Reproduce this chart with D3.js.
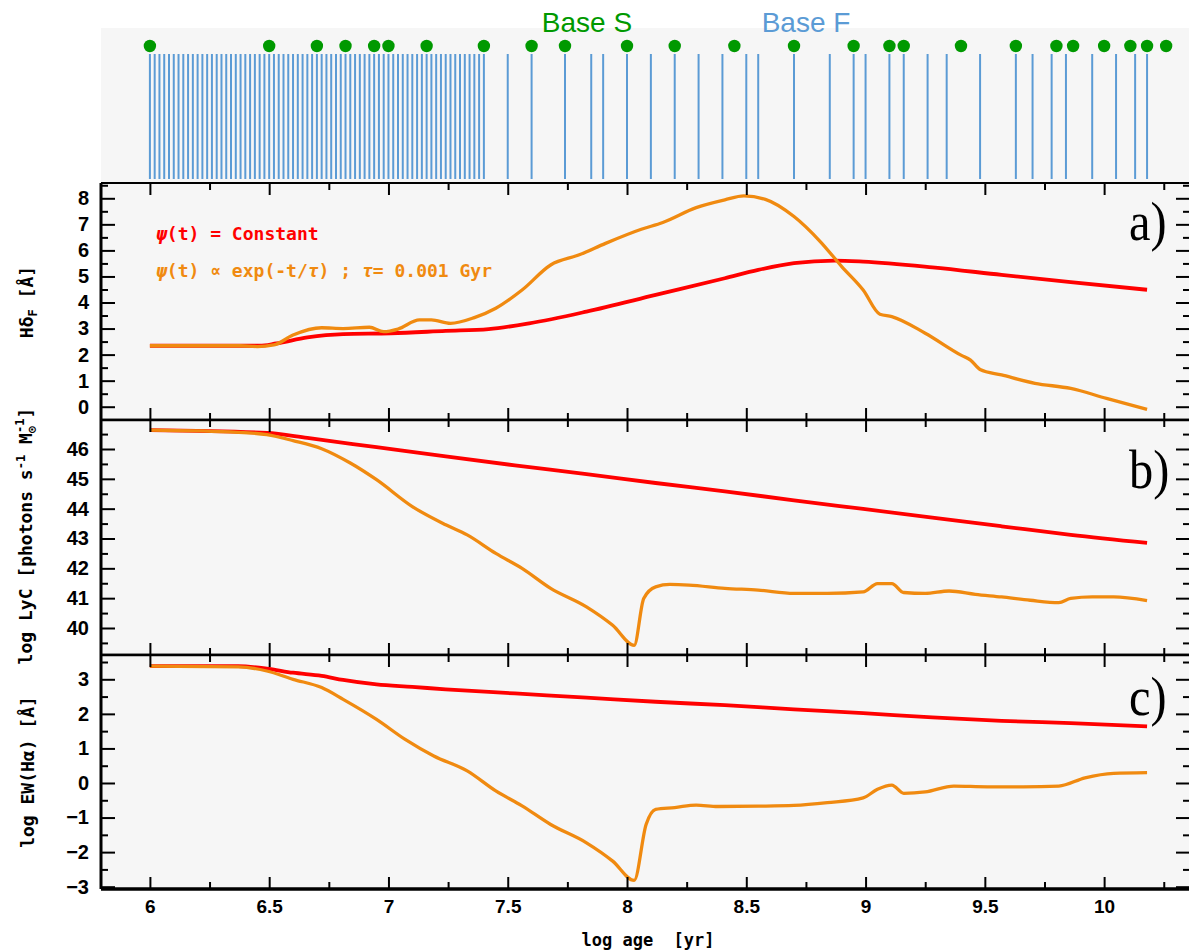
<!DOCTYPE html>
<html>
<head>
<meta charset="utf-8">
<script src="https://cdn.jsdelivr.net/npm/d3@7"></script>
<style>
  body { margin: 0; background: #fff; }
  svg { display: block; }
</style>
</head>
<body>
<svg></svg>
<script>
// ---- data (log age [yr], value) ----
const baseS = [6.0, 6.5, 6.7, 6.82, 6.94, 7.0, 7.16, 7.4, 7.6, 7.74, 8.0, 8.2, 8.45, 8.7, 8.95,
  9.1, 9.16, 9.4, 9.63, 9.8, 9.87, 10.0, 10.11, 10.18, 10.26];

const baseF = [6.00, 6.02, 6.04, 6.06, 6.08, 6.10, 6.12, 6.14, 6.16, 6.18, 6.20, 6.22, 6.24, 6.26,
  6.28, 6.30, 6.32, 6.34, 6.36, 6.38, 6.40, 6.42, 6.44, 6.46, 6.48, 6.50, 6.52, 6.54, 6.56, 6.58,
  6.60, 6.62, 6.64, 6.66, 6.68, 6.70, 6.72, 6.74, 6.76, 6.78, 6.80, 6.82, 6.84, 6.86, 6.88, 6.90,
  6.92, 6.94, 6.96, 6.98, 7.00, 7.02, 7.04, 7.06, 7.08, 7.10, 7.12, 7.14, 7.16, 7.18, 7.20, 7.22,
  7.24, 7.26, 7.28, 7.30, 7.32, 7.34, 7.36, 7.38, 7.40,
  7.5, 7.6, 7.74, 7.85, 7.9, 8.0, 8.1, 8.2, 8.3, 8.4, 8.5, 8.55, 8.7, 8.85, 8.95, 9.0,
  9.1, 9.16, 9.26, 9.34, 9.48, 9.63, 9.7, 9.78, 9.84, 9.95, 10.05, 10.13, 10.18];

// a) H delta_F
const hdConst = [[6.0, 2.34], [6.46, 2.34], [6.53, 2.43], [6.66, 2.66], [6.81, 2.79], [7.01, 2.82],
  [7.24, 2.91], [7.42, 2.98], [7.59, 3.2], [7.83, 3.65], [8.12, 4.29], [8.41, 4.93], [8.55, 5.25],
  [8.7, 5.51], [8.87, 5.61], [8.99, 5.57], [9.28, 5.35], [9.57, 5.06], [9.86, 4.78], [10.18, 4.49]];
const hdExp = [[6.0, 2.34], [6.38, 2.34], [6.45, 2.31], [6.52, 2.37], [6.6, 2.75], [6.72, 3.03], [6.81, 3.0],
  [6.92, 3.05], [6.98, 2.88], [7.04, 2.98], [7.13, 3.33], [7.18, 3.33], [7.26, 3.2], [7.36, 3.42],
  [7.45, 3.78], [7.56, 4.48], [7.68, 5.44], [7.8, 5.83], [7.91, 6.27], [8.06, 6.81], [8.15, 7.07],
  [8.29, 7.64], [8.41, 7.94], [8.49, 8.09], [8.58, 7.96], [8.7, 7.3], [8.81, 6.34], [8.9, 5.38],
  [8.99, 4.48], [9.06, 3.55], [9.11, 3.46], [9.25, 2.82], [9.4, 1.98], [9.44, 1.79], [9.48, 1.43],
  [9.57, 1.22], [9.71, 0.9], [9.86, 0.7], [10.01, 0.32], [10.18, -0.1]];

// b) log LyC
const lycConst = [[6.0, 46.63], [6.49, 46.54], [6.66, 46.37], [6.95, 46.06], [7.24, 45.75],
  [7.53, 45.45], [7.83, 45.16], [8.12, 44.86], [8.41, 44.58], [8.7, 44.28], [8.99, 43.99],
  [9.28, 43.7], [9.57, 43.41], [9.86, 43.12], [10.18, 42.85]];
const lycExp = [[6.0, 46.63], [6.37, 46.56], [6.49, 46.48], [6.6, 46.28], [6.72, 46.01],
  [6.84, 45.53], [6.95, 44.97], [7.1, 44.07], [7.24, 43.46], [7.33, 43.12], [7.45, 42.5],
  [7.56, 42.0], [7.68, 41.33], [7.83, 40.71], [7.94, 40.09], [8.03, 39.42], [8.07, 40.99],
  [8.12, 41.38], [8.18, 41.46], [8.26, 41.44], [8.41, 41.33], [8.55, 41.27], [8.7, 41.16],
  [8.84, 41.16], [8.99, 41.21], [9.05, 41.49], [9.11, 41.49], [9.16, 41.19], [9.25, 41.16],
  [9.35, 41.24], [9.46, 41.13], [9.57, 41.04], [9.69, 40.93], [9.81, 40.85], [9.86, 40.99],
  [9.95, 41.04], [10.04, 41.04], [10.18, 40.92]];

// c) log EW(H alpha)
const ewConst = [[6.0, 3.38], [6.37, 3.38], [6.49, 3.31], [6.6, 3.19], [6.72, 3.1], [6.81, 2.98],
  [6.95, 2.85], [7.1, 2.78], [7.24, 2.71], [7.53, 2.59], [7.83, 2.47], [8.12, 2.35], [8.41, 2.25],
  [8.7, 2.13], [8.99, 2.02], [9.28, 1.9], [9.57, 1.8], [9.86, 1.73], [10.18, 1.64]];
const ewExp = [[6.0, 3.38], [6.37, 3.36], [6.49, 3.24], [6.6, 3.0], [6.72, 2.76], [6.81, 2.42],
  [6.95, 1.84], [7.07, 1.26], [7.19, 0.78], [7.33, 0.35], [7.45, -0.23], [7.56, -0.66],
  [7.68, -1.2], [7.83, -1.73], [7.94, -2.26], [8.03, -2.82], [8.08, -1.2], [8.12, -0.76],
  [8.2, -0.71], [8.29, -0.64], [8.38, -0.68], [8.55, -0.67], [8.7, -0.65], [8.84, -0.57],
  [8.99, -0.43], [9.05, -0.18], [9.11, -0.06], [9.16, -0.3], [9.25, -0.26], [9.37, -0.09],
  [9.51, -0.11], [9.66, -0.11], [9.81, -0.09], [9.92, 0.15], [10.04, 0.28], [10.18, 0.3]];

const xMajor = [6, 6.5, 7, 7.5, 8, 8.5, 9, 9.5, 10];
const xMinor = [6.25, 6.75, 7.25, 7.75, 8.25, 8.75, 9.25, 9.75, 10.25];

// ---- layout ----
const W = 1189, H = 951;
const left = 101, right = 1190;
const red = "#ff0000", orange = "#f08a10";
const green = "#009900", blue = "#5b9bd5";
const bg = "#f6f6f6";

const svg = d3.select("svg").attr("width", W).attr("height", H);

const x = d3.scaleLinear().domain([5.795, 10.36]).range([left, right]);

// top strip with the two bases
const strip = { top: 28, bottom: 183 };
svg.append("rect")
  .attr("x", left).attr("y", strip.top)
  .attr("width", right - left).attr("height", strip.bottom - strip.top)
  .attr("fill", bg);

svg.append("g").selectAll("line")
  .data(baseF)
  .join("line")
  .attr("x1", d => x(d)).attr("x2", d => x(d))
  .attr("y1", 54).attr("y2", 179)
  .attr("stroke", blue)
  .attr("stroke-width", 2);

svg.append("g").selectAll("circle")
  .data(baseS)
  .join("circle")
  .attr("cx", d => x(d)).attr("cy", 46)
  .attr("r", 6.2)
  .attr("fill", green);

svg.append("text")
  .attr("x", 587).attr("y", 32)
  .attr("text-anchor", "middle")
  .style("font-family", "'Liberation Sans', Arial, sans-serif")
  .style("font-size", "28px")
  .attr("fill", green)
  .text("Base S");

svg.append("text")
  .attr("x", 806).attr("y", 32)
  .attr("text-anchor", "middle")
  .style("font-family", "'Liberation Sans', Arial, sans-serif")
  .style("font-size", "28px")
  .attr("fill", blue)
  .text("Base F");

// panels
const panels = [
  { top: 183, bottom: 420, domain: [-0.51, 8.587], ticks: [0, 1, 2, 3, 4, 5, 6, 7, 8],
    series: [hdConst, hdExp], tag: "a)", tagY: 240 },
  { top: 420, bottom: 655, domain: [39.095, 46.972], ticks: [40, 41, 42, 43, 44, 45, 46],
    series: [lycConst, lycExp], tag: "b)", tagY: 488 },
  { top: 655, bottom: 889, domain: [-3.067, 3.703], ticks: [-3, -2, -1, 0, 1, 2, 3],
    series: [ewConst, ewExp], tag: "c)", tagY: 715 }
];

const tickFont = "'Liberation Sans', Arial, sans-serif";
const monoFont = "'DejaVu Sans Mono', 'Liberation Mono', monospace";

panels.forEach((p, i) => {
  const y = d3.scaleLinear().domain(p.domain).range([p.bottom, p.top]);
  const g = svg.append("g");

  g.append("rect")
    .attr("x", left).attr("y", p.top)
    .attr("width", right - left).attr("height", p.bottom - p.top)
    .attr("fill", bg);

  // curves
  const line = d3.line()
    .x(d => x(d[0]))
    .y(d => y(d[1]))
    .curve(d3.curveMonotoneX);

  g.append("path")
    .datum(p.series[0])
    .attr("d", line)
    .attr("fill", "none")
    .attr("stroke", red)
    .attr("stroke-width", 3.8)
    .attr("stroke-linejoin", "round");

  g.append("path")
    .datum(p.series[1])
    .attr("d", line)
    .attr("fill", "none")
    .attr("stroke", orange)
    .attr("stroke-width", 3.3)
    .attr("stroke-linejoin", "round");

  // y axes, major + minor, left and right
  const minorY = p.ticks.slice(0, -1).map(t => t + 0.5)
    .concat([p.ticks[0] - 0.5, p.ticks[p.ticks.length - 1] + 0.5])
    .filter(t => t > p.domain[0] && t < p.domain[1]);

  const yLeft = g.append("g")
    .attr("transform", `translate(${left},0)`)
    .call(d3.axisLeft(y).tickValues(p.ticks).tickSizeInner(-14).tickSizeOuter(0)
      .tickPadding(12).tickFormat(d3.format("d")));
  yLeft.selectAll("text")
    .style("font-family", tickFont)
    .style("font-size", "20px")
    .style("font-weight", "bold")
    .attr("fill", "#000");

  g.append("g")
    .attr("transform", `translate(${left},0)`)
    .call(d3.axisLeft(y).tickValues(minorY).tickSizeInner(-7).tickSizeOuter(0).tickFormat(""));
  g.append("g")
    .attr("transform", `translate(${right},0)`)
    .call(d3.axisRight(y).tickValues(p.ticks).tickSizeInner(-14).tickSizeOuter(0).tickFormat(""));
  g.append("g")
    .attr("transform", `translate(${right},0)`)
    .call(d3.axisRight(y).tickValues(minorY).tickSizeInner(-7).tickSizeOuter(0).tickFormat(""));

  // x ticks on top and bottom of each panel
  g.append("g")
    .attr("transform", `translate(0,${p.top})`)
    .call(d3.axisTop(x).tickValues(xMajor).tickSizeInner(-12).tickSizeOuter(0).tickFormat(""));
  g.append("g")
    .attr("transform", `translate(0,${p.top})`)
    .call(d3.axisTop(x).tickValues(xMinor).tickSizeInner(-7).tickSizeOuter(0).tickFormat(""));

  const xBot = g.append("g")
    .attr("transform", `translate(0,${p.bottom})`)
    .call(d3.axisBottom(x).tickValues(xMajor).tickSizeInner(-12).tickSizeOuter(0)
      .tickPadding(11).tickFormat(i === panels.length - 1 ? d3.format("") : ""));
  xBot.selectAll("text")
    .style("font-family", tickFont)
    .style("font-size", "19px")
    .style("font-weight", "bold")
    .attr("fill", "#000");
  g.append("g")
    .attr("transform", `translate(0,${p.bottom})`)
    .call(d3.axisBottom(x).tickValues(xMinor).tickSizeInner(-7).tickSizeOuter(0).tickFormat(""));

  g.selectAll(".domain").remove();
  g.selectAll(".tick line").attr("stroke", "#000").attr("stroke-width", 2);

  // frame
  g.append("line").attr("x1", left).attr("x2", right).attr("y1", p.top).attr("y2", p.top)
    .attr("stroke", "#000").attr("stroke-width", i === 0 ? 2 : 2.5);
  g.append("line").attr("x1", left).attr("x2", right).attr("y1", p.bottom).attr("y2", p.bottom)
    .attr("stroke", "#000").attr("stroke-width", i === panels.length - 1 ? 3.5 : 2.5);
  g.append("line").attr("x1", left).attr("x2", left).attr("y1", p.top).attr("y2", p.bottom)
    .attr("stroke", "#000").attr("stroke-width", 3);

  // panel tag
  g.append("text")
    .attr("transform", `translate(1129,${p.tagY}) scale(0.88,1)`)
    .style("font-family", "'Liberation Serif', 'Times New Roman', serif")
    .style("font-size", "55px")
    .attr("fill", "#000")
    .text(p.tag);
});

// y-axis titles
const titleStyle = sel => sel
  .style("font-family", monoFont)
  .style("font-weight", "bold")
  .style("font-size", "18px")
  .attr("fill", "#000")
  .attr("text-anchor", "middle");

const t1 = svg.append("text")
  .attr("transform", "translate(33,302) rotate(-90)")
  .call(titleStyle);
t1.append("tspan").text("Hδ");
t1.append("tspan").attr("dy", 4).style("font-size", "12px").text("F");
t1.append("tspan").attr("dy", -4).text(" [Å]");

const t2 = svg.append("text")
  .attr("transform", "translate(32,536) rotate(-90)")
  .call(titleStyle);
t2.append("tspan").text("log LyC [photons s");
t2.append("tspan").attr("dy", -7).style("font-size", "12px").text("-1");
t2.append("tspan").attr("dy", 7).text(" M");
t2.append("tspan").attr("dy", 4).style("font-size", "12px").text("⊙");
t2.append("tspan").attr("dx", -7).attr("dy", -12).style("font-size", "12px").text("-1");
t2.append("tspan").attr("dy", 8).text("]");

svg.append("text")
  .attr("transform", "translate(34,772) rotate(-90)")
  .call(titleStyle)
  .text("log EW(Hα) [Å]");

// x-axis title
svg.append("text")
  .attr("x", 648).attr("y", 946)
  .attr("text-anchor", "middle")
  .style("font-family", monoFont)
  .style("font-weight", "bold")
  .style("font-size", "17px")
  .attr("fill", "#000")
  .attr("xml:space", "preserve")
  .text("log age  [yr]");

// legend
const legendFont = sel => sel
  .style("font-family", monoFont)
  .style("font-weight", "bold")
  .style("font-size", "18px");

const l1 = svg.append("text").attr("x", 156).attr("y", 240).attr("fill", red).call(legendFont);
l1.append("tspan").style("font-style", "italic").text("ψ");
l1.append("tspan").text("(t) = Constant");

const l2 = svg.append("text").attr("x", 156).attr("y", 277).attr("fill", orange).call(legendFont);
l2.append("tspan").style("font-style", "italic").text("ψ");
l2.append("tspan").text("(t) ∝ exp(-t/");
l2.append("tspan").style("font-style", "italic").text("τ");
l2.append("tspan").text(") ; ");
l2.append("tspan").style("font-style", "italic").text("τ");
l2.append("tspan").text("= 0.001 Gyr");
</script>
</body>
</html>
